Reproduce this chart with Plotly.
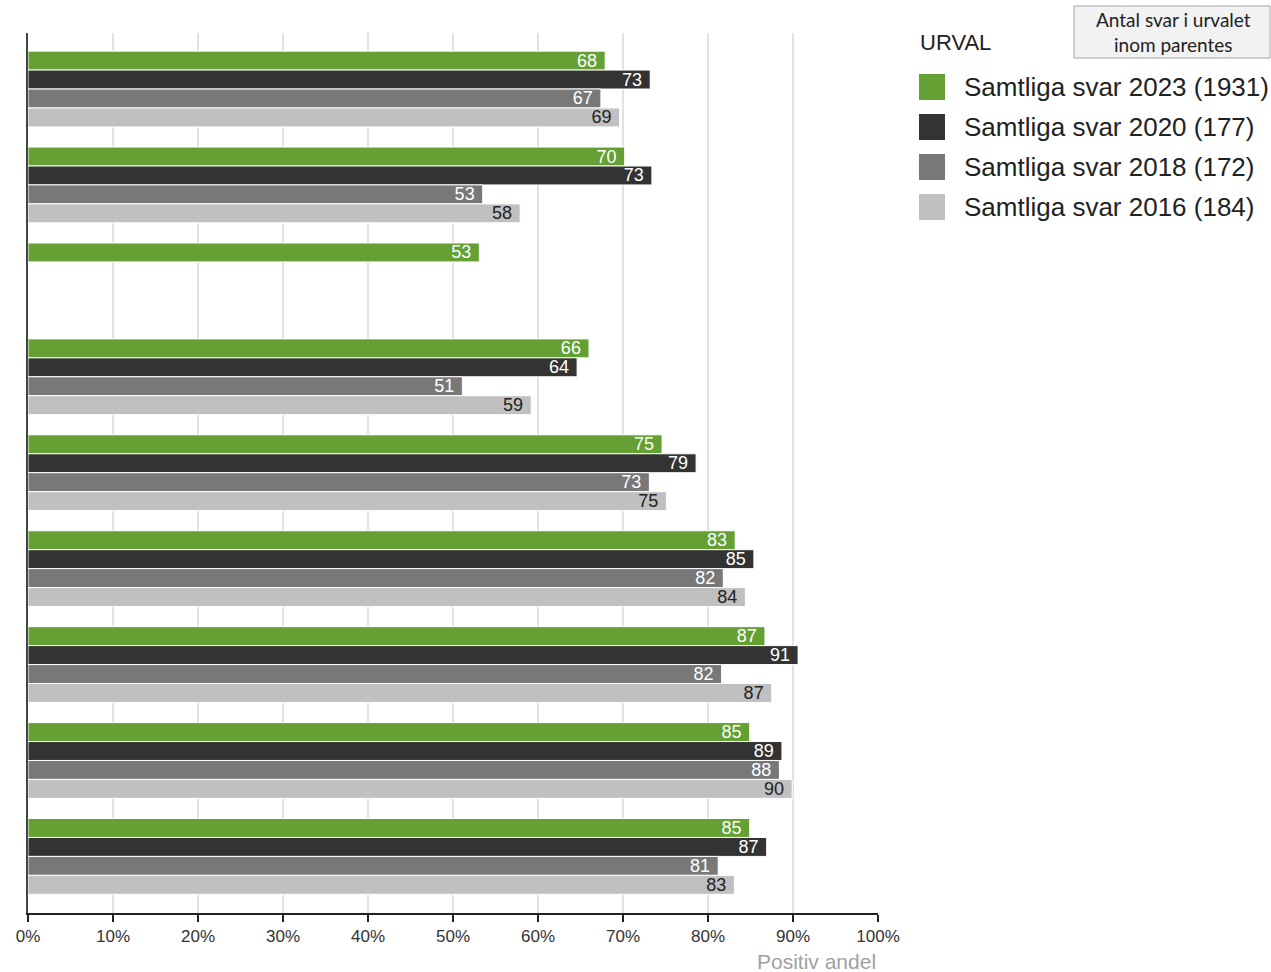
import plotly.graph_objects as go

categories = ["F1", "F2", "F3", "F4", "F5", "F6", "F7", "F8", "F9"]
series_names = ["Samtliga svar 2023 (1931)", "Samtliga svar 2020 (177)",
                "Samtliga svar 2018 (172)", "Samtliga svar 2016 (184)"]
v2023 = [67.9, 70.2, 53.1, 66.0, 74.6, 83.2, 86.7, 84.9, 84.9]
v2020 = [73.2, 73.4, None, 64.6, 78.6, 85.4, 90.6, 88.7, 86.9]
v2018 = [67.4, 53.5, None, 51.1, 73.1, 81.8, 81.6, 88.4, 81.2]
v2016 = [69.6, 57.9, None, 59.2, 75.1, 84.4, 87.5, 89.9, 83.1]
lab2023 = [68, 70, 53, 66, 75, 83, 87, 85, 85]
lab2020 = [73, 73, None, 64, 79, 85, 91, 89, 87]
lab2018 = [67, 53, None, 51, 73, 82, 82, 88, 81]
lab2016 = [69, 58, None, 59, 75, 84, 87, 90, 83]
tick_vals = [0, 10, 20, 30, 40, 50, 60, 70, 80, 90, 100]
tick_text = [f"{t}%" for t in tick_vals]

colors = ["#64a033", "#333333", "#787878", "#c0c0c0"]
text_colors = ["white", "white", "white", "#222222"]
series = [v2023, v2020, v2018, v2016]
labels = [lab2023, lab2020, lab2018, lab2016]

fig = go.Figure()
for name, vals, labs, c, tc in zip(series_names, series, labels, colors, text_colors):
    fig.add_trace(go.Bar(
        y=categories, x=vals, orientation="h", name=name,
        marker=dict(color=c, line=dict(color="white", width=1)),
        text=[("" if l is None else f"{l}\u2009\u200a") for l in labs],
        textposition="inside", insidetextanchor="end",
        textfont=dict(color=tc, size=18, family="Liberation Sans, Arial"),
        showlegend=False, cliponaxis=False, hoverinfo="x",
    ))

W_FIG, H_FIG = 1271, 972
ML, MR, MT, MB = 28, 393, 33, 59
fig.update_layout(
    barmode="group", bargap=0.21, bargroupgap=0,
    width=W_FIG, height=H_FIG,
    margin=dict(l=ML, r=MR, t=MT, b=MB),
    plot_bgcolor="white", paper_bgcolor="white",
    uniformtext=dict(minsize=18, mode="show"),
    font=dict(family="Liberation Sans, Arial", color="#333333"),
    xaxis=dict(range=[0, 100], tickvals=tick_vals, ticktext=tick_text,
               showgrid=True, gridcolor="#e2e2e2", gridwidth=2,
               showline=True, linecolor="#222222", linewidth=2,
               ticks="outside", ticklen=7, tickcolor="#222222", tickwidth=1.5,
               tickfont=dict(size=17, color="#333333"), zeroline=False),
    yaxis=dict(range=[8.59, -0.584], showticklabels=False, showgrid=False,
               showline=True, linecolor="#444444", linewidth=2, zeroline=False),
)

# axis title
fig.add_annotation(text="Positiv andel", xref="x", yref="paper", x=100, y=0,
                   yshift=-48, xanchor="right", yanchor="middle", showarrow=False,
                   font=dict(size=21, color="#a0a0a0"))

# custom legend (coordinates in screen pixels)
W = W_FIG - ML - MR
H = H_FIG - MT - MB
def px(xp):
    return (xp - ML) / W
def py(yp):
    return (H_FIG - MB - yp) / H

fig.add_annotation(text="URVAL", xref="paper", yref="paper", x=px(918), y=py(43),
                   xanchor="left", yanchor="middle", showarrow=False,
                   font=dict(size=22, color="#222222"))
for i, (name, c) in enumerate(zip(series_names, colors)):
    yc = 87 + i * 40
    fig.add_shape(type="rect", xref="paper", yref="paper",
                  x0=px(919), x1=px(945), y0=py(yc + 13), y1=py(yc - 13),
                  fillcolor=c, line=dict(width=0))
    fig.add_annotation(text=name, xref="paper", yref="paper", x=px(962), y=py(yc),
                       xanchor="left", yanchor="middle", showarrow=False,
                       font=dict(size=26, color="#222222"))

fig.add_shape(type="rect", xref="paper", yref="paper",
              x0=px(1074), x1=px(1270), y0=py(58), y1=py(6),
              fillcolor="#f2f2f2", line=dict(color="#a6a6a6", width=1))
fig.add_annotation(text="Antal svar i urvalet<br>inom parentes", xref="paper", yref="paper",
                   x=px(1173), y=py(32), xanchor="center", yanchor="middle",
                   showarrow=False, font=dict(size=19, color="#222222", family="Lato"))

fig.write_html("out.html", config={"displayModeBar": False},
               post_script="document.body.style.margin='0';document.body.style.overflow='hidden';")
